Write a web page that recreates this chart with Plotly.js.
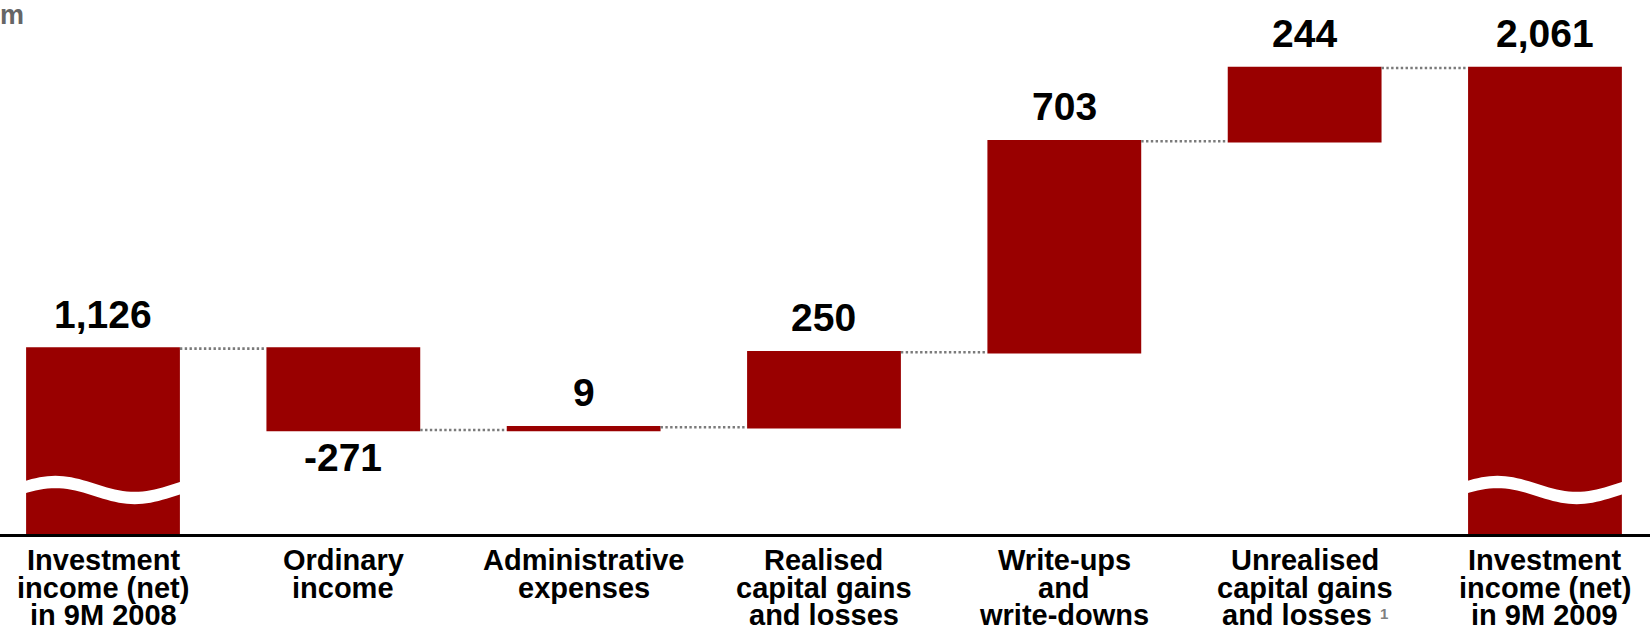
<!DOCTYPE html>
<html>
<head>
<meta charset="utf-8">
<script src="https://cdn.plot.ly/plotly-3.0.1.min.js"></script>
<style>
  html, body { margin: 0; padding: 0; background: #ffffff; }
  #chart { width: 1650px; height: 632px; }
</style>
</head>
<body>
<div id="chart"></div>
<script>
// ---- data ----
const categories = [
  "Investment income (net) in 9M 2008",
  "Ordinary income",
  "Administrative expenses",
  "Realised capital gains and losses",
  "Write-ups and write-downs",
  "Unrealised capital gains and losses",
  "Investment income (net) in 9M 2009"
];
const categoryLines = [
  ["Investment", "income (net)", "in 9M 2008"],
  ["Ordinary", "income"],
  ["Administrative", "expenses"],
  ["Realised", "capital gains", "and losses"],
  ["Write-ups", "and", "write-downs"],
  ["Unrealised", "capital gains", "and losses"],
  ["Investment", "income (net)", "in 9M 2009"]
];
const values = [1126, -271, 9, 250, 703, 244, 2061];
const measures = ["absolute", "relative", "relative", "relative", "relative", "relative", "total"];
const footnotes = ["", "", "", "", "", "1", ""];
const brokenBars = [true, false, false, false, false, false, true];
const unitLabel = "m";

// ---- style ----
const BAR_COLOR = "#990000";
const FONT = "Liberation Sans, Arial, Helvetica, sans-serif";
const BAR_WIDTH = 0.64;
const Y_MIN = 508.6, Y_MAX = 2287.4;
const PLOT_H = 534; // px
const PX_PER_UNIT = PLOT_H / (Y_MAX - Y_MIN);

// cumulative levels
const starts = [], ends = [];
let level = 0;
values.forEach((v, i) => {
  if (measures[i] === "absolute" || measures[i] === "total") {
    starts.push(0); ends.push(v); level = v;
  } else {
    starts.push(level); level += v; ends.push(level);
  }
});

const trace = {
  type: "waterfall",
  x: categories,
  y: values,
  measure: measures,
  width: BAR_WIDTH,
  textinfo: "none",
  hoverinfo: "skip",
  increasing: { marker: { color: BAR_COLOR } },
  decreasing: { marker: { color: BAR_COLOR } },
  totals: { marker: { color: BAR_COLOR } },
  connector: { mode: "between", line: { color: "#7a7a7a", width: 2.6, dash: "2.4px,2.4px" } }
};

const annotations = [];

// value labels
values.forEach((v, i) => {
  const txt = v.toLocaleString("en-US");
  if (v < 0) {
    annotations.push({
      x: categories[i], y: Math.min(starts[i], ends[i]), xref: "x", yref: "y",
      text: txt, showarrow: false, xanchor: "center", yanchor: "top", yshift: -4,
      font: { family: FONT, size: 39, color: "#000000", weight: "bold" }
    });
  } else {
    annotations.push({
      x: categories[i], y: Math.max(starts[i], ends[i]), xref: "x", yref: "y",
      text: txt, showarrow: false, xanchor: "center", yanchor: "bottom", yshift: 11,
      font: { family: FONT, size: 39, color: "#000000", weight: "bold" }
    });
  }
});

// category labels (tight line spacing, one annotation per line)
const LINE_GAP = 27.7;
categoryLines.forEach((lines, i) => {
  lines.forEach((ln, j) => {
    let txt = ln;
    if (j === lines.length - 1 && footnotes[i]) {
      txt += ' <span style="font-size:15px;color:#808080;baseline-shift:6px">' + footnotes[i] + '</span>';
    }
    annotations.push({
      x: categories[i], y: 0, xref: "x", yref: "paper",
      text: txt, showarrow: false, xanchor: "center", yanchor: "top",
      yshift: -9.8 - LINE_GAP * j, borderpad: 0, borderwidth: 0,
      font: { family: FONT, size: 29, color: "#000000", weight: "bold" }
    });
  });
});

// unit label
annotations.push({
  x: 0, y: 1, xref: "paper", yref: "paper", text: unitLabel, showarrow: false,
  xanchor: "left", yanchor: "top", xshift: 0, yshift: 0, borderpad: 0, borderwidth: 0,
  font: { family: FONT, size: 27, color: "#666666", weight: "bold" }
});

// axis-break waves on the broken bars
const shapes = [];
const waveCenter = Y_MIN + 44 / PX_PER_UNIT;
const waveAmp = 8 / PX_PER_UNIT;
const waveHalf = 6.2 / PX_PER_UNIT;
brokenBars.forEach((isBroken, i) => {
  if (!isBroken) return;
  const x0 = i - BAR_WIDTH / 2 - 0.01, x1 = i + BAR_WIDTH / 2 + 0.01;
  const N = 40;
  const top = [], bot = [];
  for (let k = 0; k <= N; k++) {
    const t = k / N;
    const x = x0 + (x1 - x0) * t;
    const yc = waveCenter + waveAmp * Math.sin(2 * Math.PI * (t + 0.05));
    top.push([x, yc + waveHalf]);
    bot.push([x, yc - waveHalf]);
  }
  let p = "M" + top.map(q => q[0].toFixed(4) + "," + q[1].toFixed(2)).join(" L");
  p += " L" + bot.reverse().map(q => q[0].toFixed(4) + "," + q[1].toFixed(2)).join(" L") + " Z";
  shapes.push({ type: "path", xref: "x", yref: "y", path: p, fillcolor: "#ffffff", line: { width: 0 }, layer: "above" });
});

const layout = {
  width: 1650, height: 632,
  margin: { l: 0, r: 0, t: 0, b: 98, autoexpand: false },
  paper_bgcolor: "#ffffff", plot_bgcolor: "#ffffff",
  showlegend: false,
  xaxis: {
    type: "category",
    range: [-0.4286, 6.437],
    showticklabels: false, ticks: "", showgrid: false, zeroline: false,
    showline: true, linecolor: "#000000", linewidth: 3, fixedrange: true
  },
  yaxis: {
    range: [Y_MIN, Y_MAX],
    visible: false, showgrid: false, zeroline: false, fixedrange: true
  },
  annotations: annotations,
  shapes: shapes,
  font: { family: FONT }
};

Plotly.newPlot("chart", [trace], layout, { displayModeBar: false, staticPlot: true });
</script>
</body>
</html>
